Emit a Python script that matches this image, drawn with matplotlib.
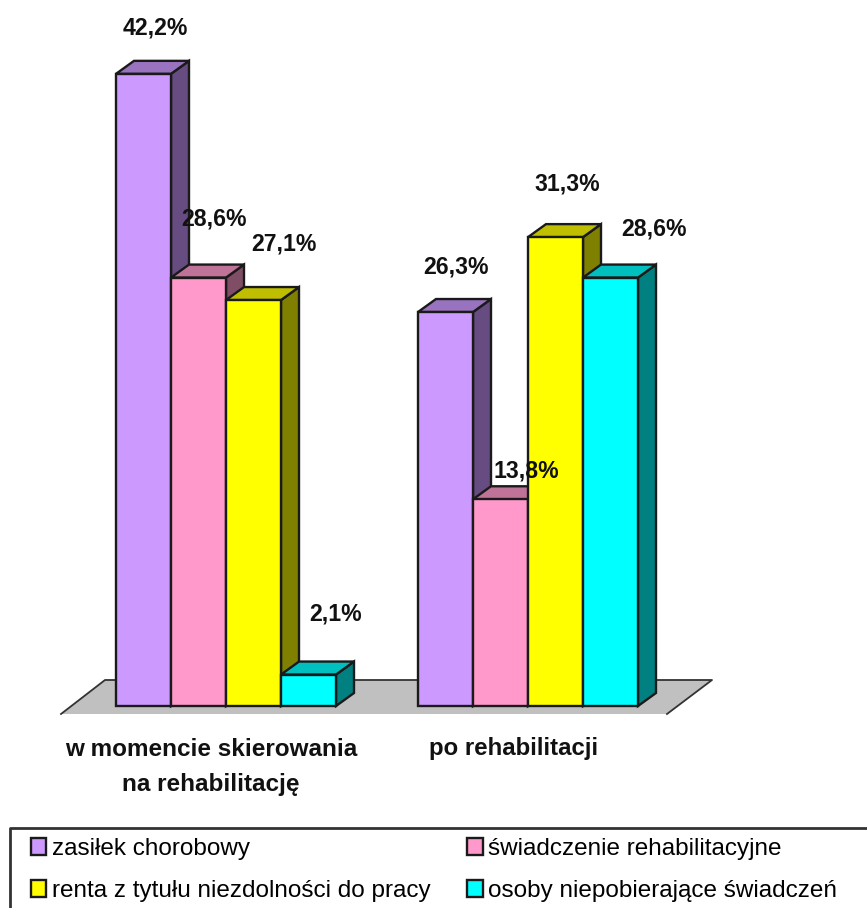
import matplotlib
matplotlib.use("Agg")
import matplotlib.pyplot as plt
from matplotlib.patches import Polygon, Patch

# data
groups = ["w momencie skierowania\nna rehabilitację", "po rehabilitacji"]
series = ["zasiłek chorobowy", "świadczenie rehabilitacyjne",
          "renta z tytułu niezdolności do pracy", "osoby niepobierające świadczeń"]
zasilek = [42.2, 26.3]
swiadczenie = [28.6, 13.8]
renta = [27.1, 31.3]
osoby = [2.1, 28.6]

front_colors = ["#CC99FF", "#FF99CC", "#FFFF00", "#00FFFF"]
top_colors = ["#9973BF", "#BF7399", "#BFBF00", "#00BFBF"]
side_colors = ["#664C80", "#804D66", "#808000", "#008080"]
edge = "#1a1a1a"

W, H = 867, 908
X0, Y0 = 116, 706      # pixel position of x=0, y=0
BAR_PX = 55.0          # one bar is 1 x unit
PCT_PX = 14.98         # one percent
GROUP_STEP = 302 / BAR_PX
DX = 18 / BAR_PX       # 3d depth
DY = 13 / PCT_PX


def px(x, y):
    return (x - X0) / BAR_PX, (Y0 - y) / PCT_PX


fig = plt.figure(figsize=(W / 100, H / 100), dpi=100)
ax = fig.add_axes([0, 0, 1, 1])
ax.set_xlim(px(0, 0)[0], px(W, 0)[0])
ax.set_ylim(px(0, H)[1], px(0, 0)[1])
ax.axis("off")
plt.rcParams["font.family"] = ["Liberation Sans", "DejaVu Sans"]

# floor
ax.add_patch(Polygon([px(61, 714), px(105, 680), px(712, 680), px(667, 714)],
                     facecolor="#C0C0C0", edgecolor="none", zorder=1))
ax.plot(*zip(px(61, 714), px(105, 680), px(712, 680), px(667, 714)),
        color="#333333", lw=1.3, zorder=1.5)

all_values = [zasilek, swiadczenie, renta, osoby]
label_shift = [[(12, 46), (11, 45)], [(16, 59), (26, 28)],
               [(30, 56), (12, 53)], [(27, 61), (43, 49)]]

for g in range(len(groups)):
    for s, values in enumerate(all_values):
        v = values[g]
        x = g * GROUP_STEP + s
        z = 2 + s * 0.1 + g
        ax.add_patch(Polygon([(x + 1, 0), (x + 1 + DX, DY), (x + 1 + DX, v + DY), (x + 1, v)],
                             facecolor=side_colors[s], edgecolor=edge, lw=1.7, zorder=z))
        ax.add_patch(Polygon([(x, v), (x + DX, v + DY), (x + 1 + DX, v + DY), (x + 1, v)],
                             facecolor=top_colors[s], edgecolor=edge, lw=1.7, zorder=z))
        ax.bar(x + 0.5, v, width=1, color=front_colors[s], edgecolor=edge, lw=1.7, zorder=z + 0.01)
        sx, sy = label_shift[s][g]
        ax.annotate(f"{v:.1f}%".replace(".", ","), (x + 0.5, v), xytext=(sx * 0.72, sy * 0.72),
                    textcoords="offset points", ha="center", va="center",
                    fontsize=16.6, fontweight="bold", color="#111111", zorder=10)

# category labels
ax.text(*px(211, 767), groups[0], ha="center", va="center", fontsize=17.5,
        fontweight="bold", color="#111111", linespacing=1.7)
ax.text(*px(514, 749), groups[1], ha="center", va="center", fontsize=17.3,
        fontweight="bold", color="#111111")

# legend frame runs off the picture
ax.plot(*zip(px(10, 912), px(10, 828), px(871, 828)), color="#333333", lw=2, zorder=11)

handles = [Patch(facecolor=front_colors[i], edgecolor=edge, lw=1.7) for i in [0, 2, 1, 3]]
labels = [series[i] for i in [0, 2, 1, 3]]
ax.legend(handles, labels, ncol=2, frameon=False, fontsize=17.5,
          bbox_to_anchor=(px(31, 0)[0], px(0, 838)[1]), bbox_transform=ax.transData,
          loc="upper left", borderpad=0, borderaxespad=0, handlelength=0.63, handleheight=0.65,
          handletextpad=0.24, labelspacing=0.82, columnspacing=1.5)

fig.savefig("out.png", dpi=100)
